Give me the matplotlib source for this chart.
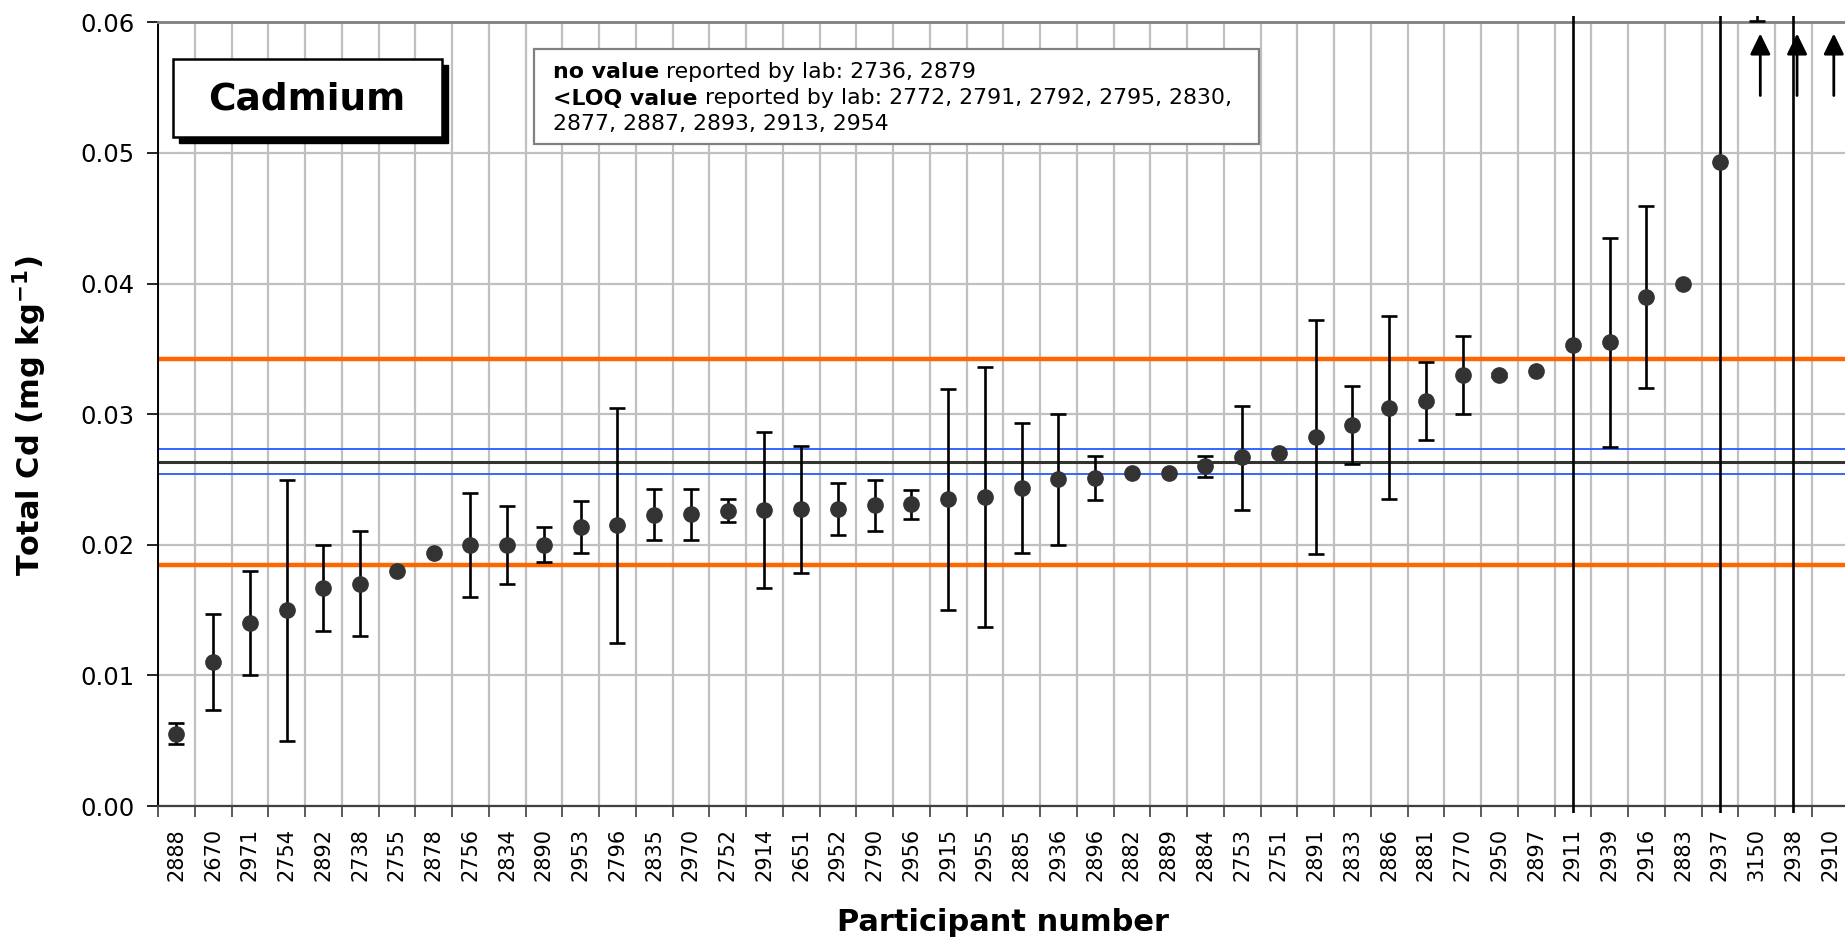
import numpy as np
import matplotlib.pyplot as plt
from matplotlib.patches import Rectangle

# participant numbers, sorted by reported value
labs = ["2888", "2670", "2971", "2754", "2892", "2738", "2755", "2878", "2756", "2834",
        "2890", "2953", "2796", "2835", "2970", "2752", "2914", "2651", "2952", "2790",
        "2956", "2915", "2955", "2885", "2936", "2896", "2882", "2889", "2884", "2753",
        "2751", "2891", "2833", "2886", "2881", "2770", "2950", "2897", "2911", "2939",
        "2916", "2883", "2937", "3150", "2938", "2910"]

# reported Cd (mg/kg); last three are off the scale
vals = [0.00554, 0.01102, 0.01403, 0.01500, 0.01671, 0.01702, 0.01803, 0.01937, 0.02000, 0.02000,
        0.02000, 0.02135, 0.02148, 0.02232, 0.02235, 0.02260, 0.02268, 0.02275, 0.02275, 0.02301,
        0.02314, 0.02350, 0.02367, 0.02434, 0.02500, 0.02515, 0.02553, 0.02553, 0.02604, 0.02673,
        0.02701, 0.02829, 0.02916, 0.03050, 0.03102, 0.03301, 0.03301, 0.03334, 0.03533, 0.03551,
        0.03900, 0.04000, 0.04933, 0.07500, 0.10000, 0.08000]

# uncertainty range (lower / upper end), nan = none reported
err_lo = [0.00472, 0.00738, 0.01000, 0.00500, 0.01337, 0.01301, np.nan, np.nan, 0.01602, 0.01699,
          0.01865, 0.01934, 0.01250, 0.02038, 0.02038, 0.02171, 0.01669, 0.01783, 0.02077, 0.02105,
          0.02201, 0.01500, 0.01367, 0.01934, 0.02000, 0.02342, np.nan, np.nan, 0.02520, 0.02268,
          np.nan, 0.01929, 0.02617, 0.02350, 0.02801, 0.03000, 0.03285, np.nan, -0.03000, 0.02752,
          0.03199, np.nan, -0.02000, 0.06010, -0.01000, np.nan]
err_hi = [0.00636, 0.01470, 0.01800, 0.02497, 0.02000, 0.02105, np.nan, np.nan, 0.02400, 0.02298,
          0.02138, 0.02332, 0.03048, 0.02431, 0.02431, 0.02350, 0.02865, 0.02760, 0.02472, 0.02497,
          0.02418, 0.03196, 0.03364, 0.02933, 0.03000, 0.02681, np.nan, np.nan, 0.02681, 0.03066,
          np.nan, 0.03724, 0.03214, 0.03752, 0.03400, 0.03599, 0.03317, np.nan, 0.10000, 0.04347,
          0.04596, np.nan, 0.12000, 0.09000, 0.20000, np.nan]

assigned = 0.02637
unc_band = [0.02543, 0.02734]
target_lim = [0.01847, 0.03425]

no_value = "2736, 2879"
loq_1 = "2772, 2791, 2792, 2795, 2830,"
loq_2 = "2877, 2887, 2893, 2913, 2954"

W, H = 1845, 938
fig = plt.figure(figsize=(W / 100, H / 100), dpi=100)
n = len(labs)
ax = fig.add_axes([158 / W, 132 / H, n * 36.75 / W, 783.6 / H])

x = np.arange(n)
vals = np.array(vals)
lo = np.array(err_lo)
hi = np.array(err_hi)
ymax = 0.06

ax.set_xlim(-0.5, n - 0.5)
ax.set_ylim(0, ymax)

# grid
ax.set_xticks(x)
ax.set_xticklabels(labs)
ax.set_xticks(np.arange(n + 1) - 0.5, minor=True)
ax.set_yticks(np.arange(0, 0.061, 0.01))
ax.yaxis.set_major_formatter(plt.FormatStrFormatter('%.2f'))
ax.grid(which='minor', axis='x', color='#c0c0c0', lw=1.6, zorder=0)
ax.grid(which='major', axis='y', color='#c0c0c0', lw=1.6, zorder=0)
ax.set_axisbelow(True)
ax.tick_params(axis='x', which='major', length=0, pad=16, labelsize=15, labelrotation=90)
ax.tick_params(axis='x', which='minor', length=8, width=1.2, color='#404040')
ax.tick_params(axis='y', length=8, width=1.2, pad=9, labelsize=17.5)

ax.spines['right'].set_visible(False)
ax.spines['top'].set_color('#808080')
ax.spines['top'].set_linewidth(2)
ax.spines['left'].set_linewidth(1.4)
ax.spines['bottom'].set_color('#404040')
ax.spines['bottom'].set_linewidth(1.6)

# reference lines
for v in target_lim:
    ax.axhline(v, color='#ff6600', lw=3.2, zorder=2)
for v in unc_band:
    ax.axhline(v, color='#3366ff', lw=1.4, zorder=2)
ax.axhline(assigned, color='#333333', lw=2.2, zorder=2)

# error bars, clipped a little outside the plot area like the original
ok = ~np.isnan(lo)
eb = ax.errorbar(x[ok], vals[ok], yerr=[vals[ok] - lo[ok], hi[ok] - vals[ok]], fmt='none',
                 ecolor='black', elinewidth=1.9, capsize=5.5, capthick=1.9, zorder=3)
clip = Rectangle((0, -0.009), 1, 1.017, transform=ax.transAxes, visible=False)
ax.add_patch(clip)
for art in list(eb.lines[1]) + list(eb.lines[2]):
    art.set_clip_path(clip)

ax.plot(x, vals, 'o', color='#333333', ms=11, zorder=4)

# arrows for values above the scale
for i in x[vals > ymax]:
    ax.annotate('', xy=(i + 0.1, 0.05915), xytext=(i + 0.1, 0.0544),
                arrowprops=dict(arrowstyle='-|>,head_length=0.45,head_width=0.22',
                                color='black', lw=2, mutation_scale=28,
                                shrinkA=0, shrinkB=0))

# axis titles
fig.text(30 / W, 1 - 416 / H, r'Total Cd (mg kg$^{\mathbf{-1}}$)', rotation=90,
         ha='center', va='center', fontsize=22, fontweight='bold')
fig.text(1003 / W, 1 - 922 / H, 'Participant number', ha='center', va='center',
         fontsize=22, fontweight='bold')

# "Cadmium" box with shadow
fig.patches.append(Rectangle((179 / W, 1 - 143 / H), 269 / W, 78 / H,
                             transform=fig.transFigure, color='black', zorder=5))
fig.patches.append(Rectangle((173 / W, 1 - 137 / H), 269 / W, 78 / H,
                             transform=fig.transFigure, facecolor='white',
                             edgecolor='black', lw=1.8, zorder=6))
fig.text(307 / W, 1 - 99 / H, 'Cadmium', ha='center', va='center',
         fontsize=27, fontweight='bold', zorder=7)

# note box
fig.patches.append(Rectangle((534 / W, 1 - 144 / H), 725 / W, 95 / H,
                             transform=fig.transFigure, facecolor='white',
                             edgecolor='#808080', lw=1.6, zorder=5))
rend = fig.canvas.get_renderer()
fs = 15.8
rows = [("no value", " reported by lab: " + no_value, 71.5),
        ("<LOQ value", " reported by lab: " + loq_1, 98.5),
        ("", loq_2, 124.5)]
for bold, rest, yy in rows:
    x0 = 553
    if bold:
        t = fig.text(x0 / W, 1 - yy / H, bold, fontsize=fs, fontweight='bold',
                     va='center', zorder=7)
        x0 = t.get_window_extent(rend).x1
    fig.text(x0 / W, 1 - yy / H, rest, fontsize=fs, va='center', zorder=7)

fig.savefig('out.png', dpi=100)
